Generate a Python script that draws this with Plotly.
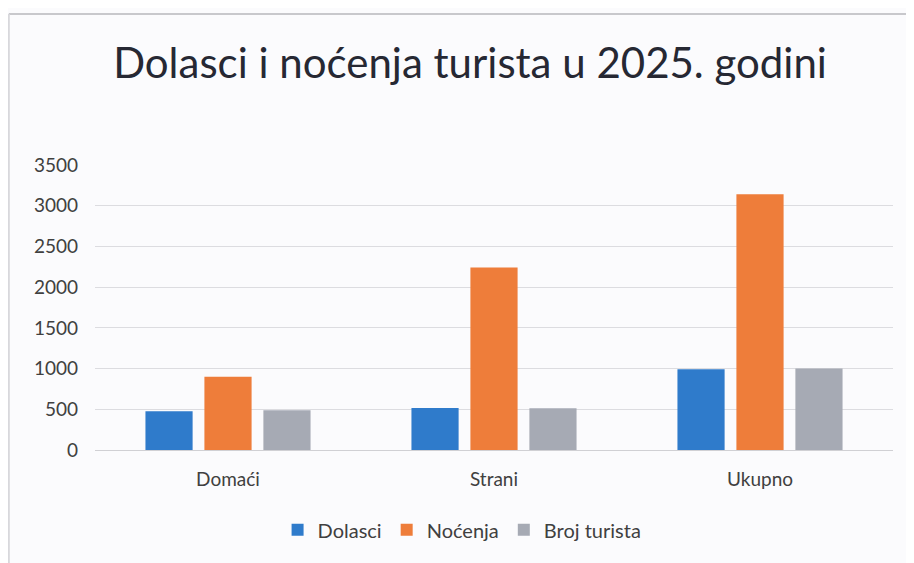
import plotly.graph_objects as go

categories = ["Domaći", "Strani", "Ukupno"]
dolasci = [475, 516, 991]
nocenja = [900, 2240, 3140]
broj_turista = [488, 512, 1000]
y_ticks = [0, 500, 1000, 1500, 2000, 2500, 3000, 3500]

FONT = "Lato, Open Sans, sans-serif"

fig = go.Figure()
fig.add_trace(go.Bar(name="Dolasci", x=categories, y=dolasci, marker=dict(color="#2F7BCB", line=dict(width=0))))
fig.add_trace(go.Bar(name="Noćenja", x=categories, y=nocenja, marker=dict(color="#EE7D3A", line=dict(width=0))))
fig.add_trace(go.Bar(name="Broj turista", x=categories, y=broj_turista, marker=dict(color="#A6AAB4", line=dict(width=0))))

fig.update_layout(
    width=906, height=555,
    margin=dict(l=87, r=21, t=157, b=113),
    paper_bgcolor="#FBFBFD",
    plot_bgcolor="#FBFBFD",
    barmode="group",
    bargap=0.335,
    bargroupgap=0.2,
    font=dict(family=FONT, color="#595959", size=18),
    title=dict(
        text="Dolasci i noćenja turista u 2025. godini",
        x=0.51, xanchor="center", y=0.9, yanchor="middle", yref="container",
        font=dict(family=FONT, size=42, color="#262833"),
    ),
    legend=dict(
        orientation="h", x=0.46, xanchor="center", y=-0.28, yanchor="middle",
        font=dict(family=FONT, size=20, color="#404040"),
        bgcolor="rgba(0,0,0,0)", itemwidth=30,
    ),
    showlegend=True,
)
fig.update_xaxes(showgrid=False, showline=False, ticks="", tickfont=dict(size=19, color="#404040"),
                 ticklabelstandoff=16)
fig.update_yaxes(range=[0, 3500], tickvals=y_ticks, showgrid=True, gridcolor="#DCDCE0", gridwidth=1,
                 zeroline=True, zerolinecolor="#D0D0D4", zerolinewidth=1, showline=False, ticks="",
                 tickfont=dict(size=19, color="#404040"), ticklabelstandoff=16)

fig.add_shape(type="line", xref="paper", yref="paper", x0=-0.108, x1=1.05, y0=1.53, y1=1.53,
              line=dict(color="#C8C8CC", width=2))
fig.add_shape(type="line", xref="paper", yref="paper", x0=-0.108, x1=-0.108, y0=1.53, y1=-0.45,
              line=dict(color="#D8D8DC", width=2))

fig.write_html("out.html")
